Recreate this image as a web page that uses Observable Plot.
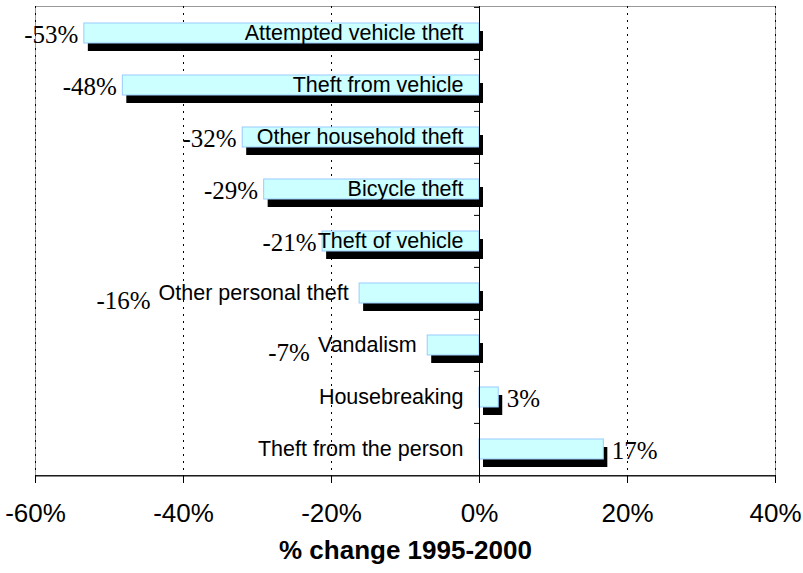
<!DOCTYPE html>
<html><head><meta charset="utf-8">
<script src="https://cdn.jsdelivr.net/npm/d3@7"></script>
<script src="https://cdn.jsdelivr.net/npm/@observablehq/plot@0.6"></script>
<style>html,body{margin:0;padding:0;background:#fff;} #chart svg{display:block}</style>
</head><body><div id="chart"></div>
<script>
const categories = ["Attempted vehicle theft","Theft from vehicle","Other household theft","Bicycle theft","Theft of vehicle","Other personal theft","Vandalism","Housebreaking","Theft from the person"];
const changes = [-53.4,-48.2,-32.0,-29.1,-21.2,-16.2,-7.0,2.6,16.8];
const xTicks = [-60,-40,-20,0,20,40];
const gridTicks = [-60,-40,-20,20,40];
const axisTitle = "% change 1995-2000";

const W = 803, H = 573, mL = 35, mR = 28, mT = 6, mB = 97;
const pxPerUnit = (W - mL - mR) / 100;
const step = (H - mT - mB) / categories.length;
const sans = "'Liberation Sans', Arial, Helvetica, sans-serif";
const serif = "'Liberation Serif', 'Times New Roman', serif";
const catSize = 21.5, valSize = 25;

const ctx = document.createElement("canvas").getContext("2d");
ctx.font = `${catSize}px ${sans}`;
const rows = categories.map((cat, i) => {
  const v = changes[i];
  const w = ctx.measureText(cat).width;
  return {cat, v, w, label: Math.round(v) + "%", inside: v < 0 && w < Math.abs(v) * pxPerUnit};
});
const lastCat = categories[categories.length - 1];

const chart = Plot.plot({
  width: W, height: H,
  marginLeft: mL, marginRight: mR, marginTop: mT, marginBottom: mB,
  style: {fontFamily: sans, background: "#fff", color: "#000"},
  x: {domain: [-60, 40], axis: null},
  y: {domain: categories, paddingInner: 0.62, paddingOuter: 0.31, axis: null},
  marks: [
    Plot.frame({stroke: "#999"}),
    Plot.ruleX(gridTicks, {stroke: "#000", strokeDasharray: "2,5"}),
    Plot.barX(rows, {x1: d => 0, x2: "v", y: "cat", fill: "#000", dx: 4, dy: 8}),
    Plot.barX(rows, {x1: d => 0, x2: "v", y: "cat", fill: "#ccffff", stroke: "#99ccff", strokeWidth: 1}),
    Plot.ruleX([0], {stroke: "#000"}),
    Plot.ruleY(categories, {y: d => d, x1: d => -5 / pxPerUnit, x2: d => 0, dy: -step / 2, stroke: "#000"}),
    Plot.ruleY([lastCat], {y: d => d, x1: d => -60, x2: d => 40, dy: step / 2, stroke: "#000"}),
    Plot.axisX({ticks: xTicks, tickFormat: d => d + "%", tickSize: 7, tickPadding: 20, fontSize: 26, label: null}),
    // category labels at zero
    Plot.text(rows.filter(r => r.v >= 0 || r.inside), {x: d => 0, y: "cat", text: "cat", textAnchor: "end", dx: -16, fontSize: catSize, fill: "#000"}),
    // category labels outside negative bars
    Plot.text(rows.filter(r => r.v < 0 && !r.inside), {x: "v", y: "cat", text: "cat", textAnchor: "end", dx: -11, fontSize: catSize, fill: "#000"}),
    // value labels
    Plot.text(rows.filter(r => r.inside), {x: "v", y: "cat", text: "label", textAnchor: "end", dx: -6, dy: 1, fontSize: valSize, fontFamily: serif, fill: "#000"}),
    Plot.text(rows.filter(r => r.v < 0 && !r.inside), {x: d => d.v - (d.w + 19) / pxPerUnit, y: "cat", text: "label", textAnchor: "end", dy: 7, fontSize: valSize, fontFamily: serif, fill: "#000"}),
    Plot.text(rows.filter(r => r.v >= 0), {x: "v", y: "cat", text: "label", textAnchor: "start", dx: 8, dy: 1, fontSize: valSize, fontFamily: serif, fill: "#000"}),
    Plot.text([axisTitle], {text: d => d, frameAnchor: "bottom", dy: 82, fontSize: 26, fontWeight: "bold", fill: "#000"})
  ]
});
document.getElementById("chart").appendChild(chart);
</script></body></html>
